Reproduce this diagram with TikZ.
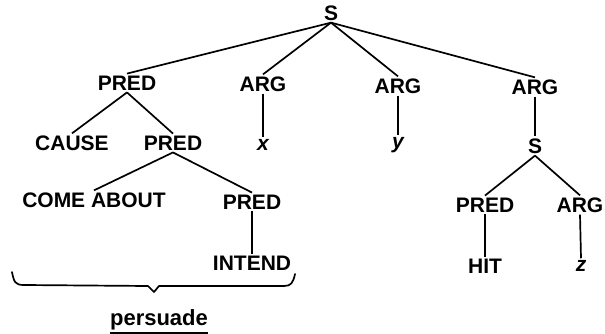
\documentclass[tikz,border=0pt]{standalone}
\usepackage{fontspec}
\setmainfont{Liberation Sans}
\begin{document}
\begin{tikzpicture}[x=1pt,y=-1pt,
  lab/.style={font=\fontsize{21}{24}\selectfont\bfseries, inner sep=2pt},
  var/.style={font=\fontsize{21}{24}\selectfont\bfseries\itshape, inner sep=2pt},
  edge/.style={line width=1.7pt},
  brace/.style={line width=1.7pt, line join=round, line cap=round}]
\useasboundingbox (0,0) rectangle (605,334);
\node[lab] (S) at (331,13) {S};
\node[lab] (P1) at (127,83) {PRED};
\node[lab] (A1) at (263,84) {ARG};
\node[lab] (A2) at (398,86) {ARG};
\node[lab] (A3) at (535,87) {ARG};
\node[var] (x) at (263,145) {x};
\node[var] (y) at (398,145) {y};
\node[lab] (S2) at (535,146) {S};
\node[lab] (CAUSE) at (72,143) {CAUSE};
\node[lab] (P2) at (173,143) {PRED};
\node[lab] (COME) at (94,200) {COME ABOUT};
\node[lab] (P3) at (252,202) {PRED};
\node[lab] (INTEND) at (252,263) {INTEND};
\node[lab] (PH) at (485,205) {PRED};
\node[lab] (AZ) at (580,205) {ARG};
\node[lab] (HIT) at (485,266) {HIT};
\node[var] (z) at (581,266) {z};
\node[font=\fontsize{22}{24}\selectfont\bfseries, inner sep=0pt, anchor=base] (pers) at (159,325) {persuade};
\draw[line width=1.8pt] ([yshift=-8pt]pers.base west) -- ([yshift=-8pt]pers.base east);
\foreach \a/\b in {S/P1,S/A1,S/A2,S/A3,A1/x,A2/y,A3/S2,P1/CAUSE,P1/P2,P2/COME,P2/P3,P3/INTEND,S2/PH,S2/AZ,PH/HIT,AZ/z}
  \draw[edge] (\a.south) -- (\b.north);
\coordinate (bl) at (12,272);
\coordinate (br) at (295,274);
\coordinate (bt) at (154,292);
\draw[brace] (bl) .. controls (14,282) and (15,285) .. (24,285) -- (148,286) -- (bt) -- (159,286) -- (284,286) .. controls (291,286) and (293,283) .. (br);
\end{tikzpicture}
\end{document}
